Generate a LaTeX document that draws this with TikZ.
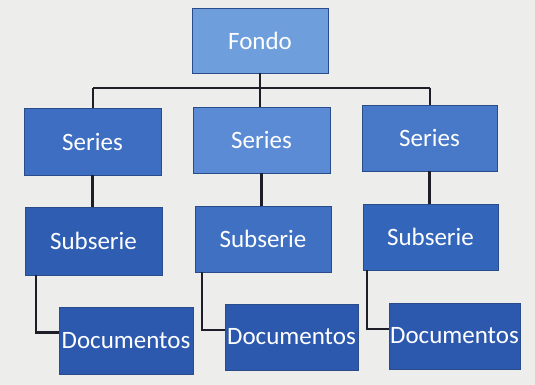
\documentclass[tikz,border=0pt]{standalone}
\usepackage{fontspec}
\setmainfont{Carlito}
\definecolor{bg}{HTML}{EDEDEB}
\definecolor{cfondo}{HTML}{6E9EDB}
\definecolor{cserL}{HTML}{3D6EC2}
\definecolor{cserM}{HTML}{5B8BD4}
\definecolor{cserR}{HTML}{4878C8}
\definecolor{csubL}{HTML}{2E5DB2}
\definecolor{csubM}{HTML}{4070C2}
\definecolor{csubR}{HTML}{3366BB}
\definecolor{cdoc}{HTML}{2C59AE}
\definecolor{cedge}{HTML}{2A4C8A}
\definecolor{cline}{HTML}{1E1E28}
\tikzset{
  box/.style={draw=cedge, line width=0.8pt, inner sep=0pt, text=white,
    font=\fontsize{25}{27}\selectfont, minimum width=#1},
  box/.default=136pt,
  conn/.style={draw=cline, line width=2.2pt}
}
\begin{document}
\begin{tikzpicture}[x=1pt,y=-1pt]
\fill[bg] (0,0) rectangle (535,385);
\useasboundingbox (0,0) rectangle (535,385);
% nodes
\node[box=136pt, fill=cfondo, minimum height=65pt] (fondo) at (260,40.5) {Fondo};
\node[box=137pt, fill=cserL, minimum height=67pt] (serL) at (92.5,141.5) {Series};
\node[box=137pt, fill=cserM, minimum height=66pt] (serM) at (261.5,140) {Series};
\node[box=135pt, fill=cserR, minimum height=66pt] (serR) at (429.5,138) {Series};
\node[box=137pt, fill=csubL, minimum height=68pt] (subL) at (93.5,241) {Subserie};
\node[box=136pt, fill=csubM, minimum height=66pt] (subM) at (263,239) {Subserie};
\node[box=135pt, fill=csubR, minimum height=66pt] (subR) at (430.5,237) {Subserie};
\node[box=134pt, fill=cdoc, minimum height=67pt] (docL) at (126,340.5) {Documentos};
\node[box=133pt, fill=cdoc, minimum height=66pt] (docM) at (291.5,337) {Documentos};
\node[box=131pt, fill=cdoc, minimum height=66pt] (docR) at (454.5,336) {Documentos};
% bus
\coordinate (busL) at (93,88);
\coordinate (busR) at (430,88);
\draw[conn] (busL) -- (busR);
\draw[conn] (fondo.south) -- (fondo.south |- serM.north);
\draw[conn] (busL) -- (busL |- serL.north);
\draw[conn] (busR) -- (busR |- serR.north);
% series to subserie
\draw[conn] (serL.south) -- (serL.south |- subL.north);
\draw[conn] (serM.south) -- (serM.south |- subM.north);
\draw[conn] (serR.south) -- (serR.south |- subR.north);
% subserie to documentos
\draw[conn] ([xshift=-57.5pt]subL.south) |- ([yshift=8pt]docL.west);
\draw[conn] ([xshift=-61pt]subM.south) |- ([yshift=7pt]docM.west);
\draw[conn] ([xshift=-63.5pt]subR.south) |- ([yshift=7pt]docR.west);
\end{tikzpicture}
\end{document}
